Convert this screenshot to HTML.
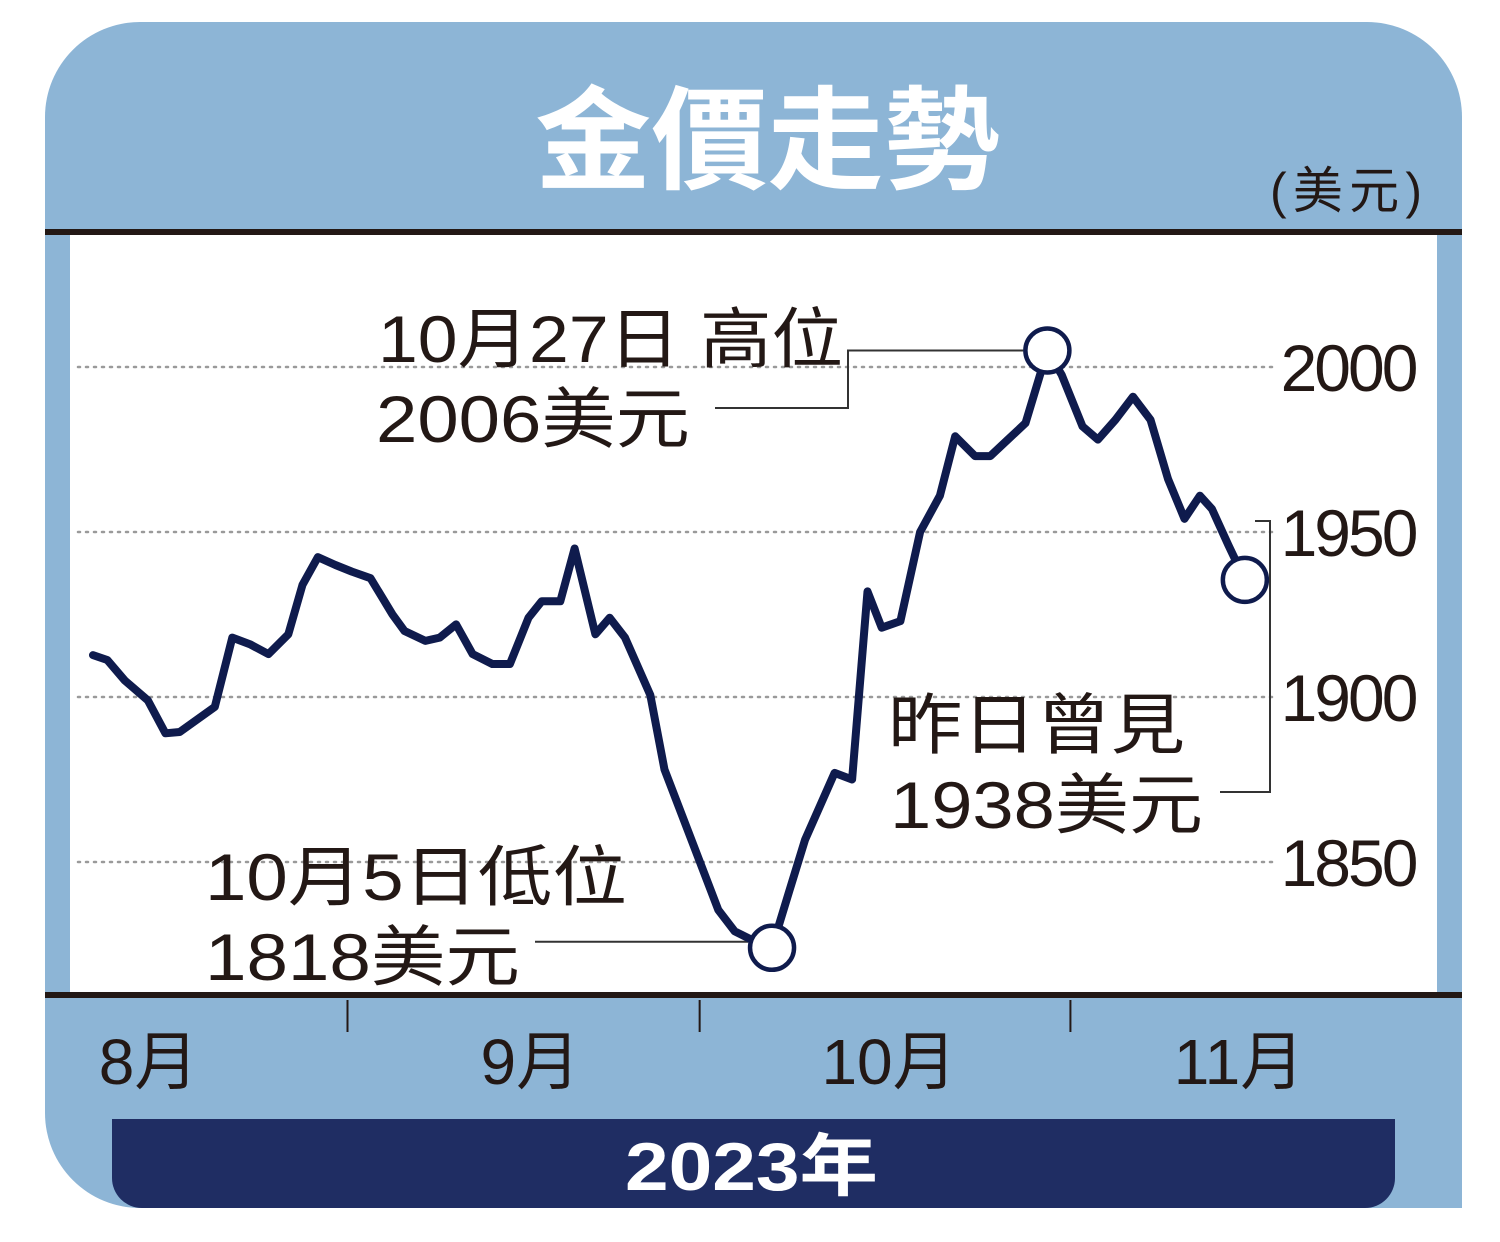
<!DOCTYPE html>
<html><head><meta charset="utf-8"><style>
html,body{margin:0;padding:0;background:#fff}
body{width:1500px;height:1242px;position:relative;overflow:hidden;font-family:"Liberation Sans","Noto Sans CJK TC",sans-serif}
</style></head><body>
<svg id="chart" width="1500" height="1242" viewBox="0 0 1500 1242" xmlns="http://www.w3.org/2000/svg" style="position:absolute;left:0;top:0">
<path d="M140 22 H1367 A95 95 0 0 1 1462 117 V1208 H140 A95 95 0 0 1 45 1113 V117 A95 95 0 0 1 140 22 Z" fill="#8db5d6"/>
<rect x="70" y="234" width="1367" height="761" fill="#fff"/>
<rect x="45" y="229" width="1417" height="6" fill="#231815"/>
<rect x="45" y="992" width="1417" height="6" fill="#231815"/>
<text x="535" y="180" textLength="465" lengthAdjust="spacingAndGlyphs" font-size="112" font-weight="bold" fill="#fff" font-family="'Noto Sans CJK TC',sans-serif">金價走勢</text>
<text x="1270" y="208" textLength="152" lengthAdjust="spacing" font-size="50" fill="#231815" font-family="'Liberation Sans','Noto Sans CJK TC',sans-serif">(美元)</text>
<g id="grid"></g>
<g id="yticks"></g>
<g id="ann"></g>
<path id="line" fill="none" stroke="#0f1b4d" stroke-width="8" stroke-linejoin="round" stroke-linecap="round"/>
<g id="marks"></g>
<g id="xaxis"></g>
<path d="M112 1119 H1395 V1178 A30 30 0 0 1 1365 1208 H142 A30 30 0 0 1 112 1178 Z" fill="#1f2d63"/>
<text x="625" y="1190" textLength="253" lengthAdjust="spacingAndGlyphs" font-size="68" font-weight="bold" fill="#fff" font-family="'Liberation Sans','Noto Sans CJK TC',sans-serif">2023年</text>
</svg>
<script>
const days=[0,1.3,2.9,5.0,6.6,7.9,11.1,12.7,14.3,16.0,17.8,19.1,20.5,22.1,23.6,25.3,27.3,28.4,30.3,31.6,33.1,34.6,36.4,38.0,39.7,40.9,42.6,43.9,45.8,47.1,48.5,50.8,52.1,54.4,57.0,58.5,60.3,61.9,63.5,64.9,67.6,69.2,70.6,71.9,73.6,75.4,77.2,78.6,80.4,81.8,83.4,85.0,87.0,88.3,90.2,91.6,93.2,94.8,96.4,98.0,99.5,100.9,102.0,103.5,105.0];
const prices=[1912.7,1911.2,1905,1899,1889,1889.4,1897,1918,1916,1913,1919,1934,1942.4,1940,1938,1936,1925,1920,1917,1918,1922,1913,1910,1910,1924,1929,1929,1945,1919,1924,1918,1900.6,1878,1858,1835.5,1829,1826,1824,1841.5,1856.7,1877,1875,1932,1921,1923,1950,1961,1979,1973,1973,1978,1983,2005,1997.6,1982,1978,1984,1991,1984,1966,1954,1961,1957,1946,1935.5];
const yTicks=[2000,1950,1900,1850];
const monthLabels=["8月","9月","10月","11月"];
const monthLabelDays=[4.7,39.5,72.2,104.1];
const monthSepDays=[23.2,55.3,89.1];
const X=d=>93+d*10.97;
const Y=v=>367+(2000-v)*3.3;
const NS="http://www.w3.org/2000/svg";
function mk(tag,attrs,parent,txt){const e=document.createElementNS(NS,tag);for(const k in attrs)e.setAttribute(k,attrs[k]);if(txt!==undefined)e.textContent=txt;document.getElementById(parent).appendChild(e);return e;}
yTicks.forEach(t=>{
 const g=mk('line',{x1:78,x2:1272,y1:Y(t),y2:Y(t),stroke:'#9a9a9a','stroke-width':2.5,'stroke-dasharray':'2 6','stroke-linecap':'round'},'grid');
 
 
 const l=mk('text',{x:1348,y:Y(t)+24,'text-anchor':'middle','font-size':66,fill:'#231815','letter-spacing':'-3'},'yticks',String(t));
 
 
});
let d='';days.forEach((x,i)=>{d+=(i?'L':'M')+X(x).toFixed(1)+' '+Y(prices[i]).toFixed(1)+' ';});
document.getElementById('line').setAttribute('d',d);
let hi=0,lo=0;prices.forEach((p,i)=>{if(p>prices[hi])hi=i;if(p<prices[lo])lo=i;});
const last=prices.length-1;
const hx=X(days[hi]),hy=Y(prices[hi]),lx=X(days[lo]),ly=Y(prices[lo]);
[[hi,'high-marker'],[lo,'low-marker'],[last,'latest-marker']].forEach(([i,n])=>{
 const c=mk('circle',{cx:X(days[i]),cy:Y(prices[i]),r:22,fill:'#fff',stroke:'#0f1b4d','stroke-width':4.5},'marks');
 
 
});
const L=(pts,n)=>{const p=mk('polyline',{points:pts,fill:'none',stroke:'#333','stroke-width':2},'ann');};
L(`${hx-24},${hy} 848,${hy} 848,408 715,408`,'high-leader');
L(`${lx-24},${ly-6} 535,${ly-6}`,'low-leader');
L(`1255,521 1270,521 1270,792 1220,792`,'latest-leader');
const T=(x,y,w,s,n)=>{const t=mk('text',{x:x,y:y,textLength:w,lengthAdjust:'spacingAndGlyphs','font-size':66,fill:'#231815'},'ann',s);};
T(378,362,465,'10月27日 高位','high-label-date');
T(376,442,314,'2006美元','high-label-value');
T(205,900,422,'10月5日低位','low-label-date');
T(205,980,315,'1818美元','low-label-value');
T(888,748,297,'昨日曾見','latest-label-date');
T(890,828,313,'1938美元','latest-label-value');
monthSepDays.forEach((m,i)=>{
 const t=mk('line',{x1:X(m),x2:X(m),y1:1000,y2:1032,stroke:'#231815','stroke-width':2},'xaxis');
 
 
});
monthLabels.forEach((m,i)=>{
 const t=mk('text',{x:X(monthLabelDays[i])+4,y:1084,'text-anchor':'middle','font-size':64,fill:'#231815'},'xaxis',m);
 
 
});
</script>
</body></html>
